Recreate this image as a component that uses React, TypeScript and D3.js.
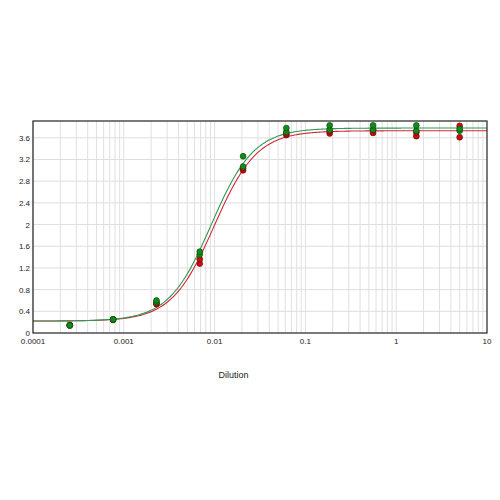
import * as d3 from 'd3';
import React, { useEffect, useRef } from "react";

// dilution series (3-fold)
const dilutions = [5, 1.667, 0.556, 0.185, 0.0617, 0.0206, 0.00686, 0.00229, 0.000762, 0.000254];
const green1 = [3.76, 3.83, 3.83, 3.83, 3.78, 3.26, 1.50, 0.60, 0.25, 0.14];
const green2 = [3.73, 3.73, 3.75, 3.75, 3.71, 3.07, 1.45, 0.57, 0.25, 0.14];
const red1 = [3.82, 3.70, 3.74, 3.72, 3.68, 3.04, 1.36, 0.55, 0.24, 0.15];
const red2 = [3.61, 3.63, 3.69, 3.68, 3.65, 3.00, 1.28, 0.53, 0.25, 0.14];

// 4PL fit parameters: bottom, top, ec50, hill
const greenFit = [0.22, 3.78, 0.0092, 1.85];
const redFit = [0.22, 3.73, 0.0099, 1.85];

const xTickLabels = ['0.0001', '0.001', '0.01', '0.1', '1', '10'];
const yTicks = [0, 0.4, 0.8, 1.2, 1.6, 2, 2.4, 2.8, 3.2, 3.6];

const App: React.FC = () => {
    const ref = useRef<SVGSVGElement>(null);

    useEffect(() => {
        if (!ref.current) return;
        const left = 33, right = 487, top = 121, bottom = 333;

        const svg = d3.select(ref.current);
        svg.selectAll('*').remove();

        const x = d3.scaleLog().domain([0.0001, 10]).range([left, right]);
        const y = d3.scaleLinear().domain([0, 3.91]).range([bottom, top]);

        const grid = svg.append('g');
        // minor + major vertical grid
        const vLines: number[] = [];
        for (let e = -4; e < 1; e++) {
            for (let m = 1; m <= 9; m++) vLines.push(m * Math.pow(10, e));
        }
        grid.selectAll('.v').data(vLines).enter().append('line')
            .attr('x1', d => x(d)).attr('x2', d => x(d))
            .attr('y1', top).attr('y2', bottom)
            .attr('stroke', '#e0e0e0').attr('stroke-width', 1);
        grid.selectAll('.h').data(yTicks.slice(1)).enter().append('line')
            .attr('x1', left).attr('x2', right)
            .attr('y1', d => y(d)).attr('y2', d => y(d))
            .attr('stroke', '#dedede').attr('stroke-width', 1);

        const fourPL = (p: number[], v: number) => p[0] + (p[1] - p[0]) / (1 + Math.pow(p[2] / v, p[3]));
        const xs = d3.range(-4, 1.0001, 0.02).map(e => Math.pow(10, e));
        const line = d3.line<number>().x(d => x(d)).curve(d3.curveMonotoneX);

        svg.append('path')
            .attr('d', line.y(d => y(fourPL(redFit, d)))(xs))
            .attr('fill', 'none').attr('stroke', '#d2283c').attr('stroke-width', 1.1);
        svg.append('path')
            .attr('d', line.y(d => y(fourPL(greenFit, d)))(xs))
            .attr('fill', 'none').attr('stroke', '#2e9a55').attr('stroke-width', 1.1);

        const dots = (vals: number[], fill: string, stroke: string) => {
            svg.append('g').selectAll('circle').data(vals).enter().append('circle')
                .attr('cx', (_, i) => x(dilutions[i]))
                .attr('cy', d => y(d))
                .attr('r', 2.9)
                .attr('fill', fill).attr('stroke', stroke).attr('stroke-width', 0.7);
        };
        dots(red2, '#c41010', '#7a0000');
        dots(red1, '#c41010', '#7a0000');
        dots(green2, '#138a1a', '#075007');
        dots(green1, '#138a1a', '#075007');

        // frame
        svg.append('rect')
            .attr('x', left).attr('y', top)
            .attr('width', right - left).attr('height', bottom - top)
            .attr('fill', 'none').attr('stroke', '#222').attr('stroke-width', 1.2);

        const font = 'Liberation Sans, Arial, sans-serif';
        svg.append('g').selectAll('text').data(xTickLabels).enter().append('text')
            .attr('x', d => x(+d)).attr('y', 344)
            .attr('text-anchor', 'middle')
            .attr('font-family', font).attr('font-size', 8).attr('fill', '#222')
            .text(d => d);
        svg.append('g').selectAll('text').data(yTicks).enter().append('text')
            .attr('x', 30).attr('y', d => y(d) + 3)
            .attr('text-anchor', 'end')
            .attr('font-family', font).attr('font-size', 8).attr('fill', '#222')
            .text(d => String(d));

        svg.append('text')
            .attr('x', 233.5).attr('y', 378)
            .attr('text-anchor', 'middle')
            .attr('font-family', font).attr('font-size', 9).attr('fill', '#222')
            .text('Dilution');
    }, []);

    return (
        <svg ref={ref} width={500} height={500}
            style={{ position: 'absolute', left: 0, top: 0, background: '#fff' }} />
    );
}

export default App;
